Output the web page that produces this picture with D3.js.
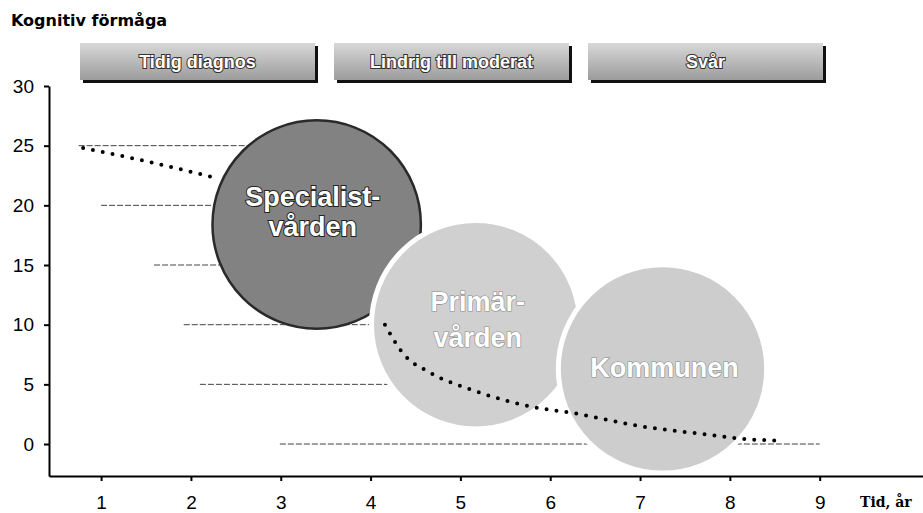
<!DOCTYPE html>
<html>
<head>
<meta charset="utf-8">
<script src="https://cdn.jsdelivr.net/npm/d3@7"></script>
<style>
  body { margin: 0; background: #fff; }
  .tick text { font-family: "Liberation Sans", Arial, sans-serif; font-size: 19px; fill: #000; }
</style>
</head>
<body>
<div id="chart-container"></div>
<script>
// Phases shown as buttons above the chart
const phases = ["Tidig diagnos", "Lindrig till moderat", "Svår"];

// Care providers drawn as circles (time in years, cognitive score)
const careNames = [["Specialist-", "vården"], ["Primär-", "vården"], ["Kommunen"]];
const careYears = [3.4, 5.17, 7.25];
const careScores = [18.4, 10.0, 6.3];

// Staircase gridlines: level, start year, end year
const gridLevels = [25, 20, 15, 10, 5, 0];
const gridStart = [0.75, 1.0, 1.59, 1.92, 2.1, 2.99];
const gridEnd = [3.5, 3.0, 3.8, 4.2, 8.3, 9.0];

// Dotted decline curve (null = hidden behind the dark circle)
const trendYears = [0.8, 1.5, 2.22, null, 4.16, 4.36, 4.66, 5.18, 5.81, 6.25, 7.0, 7.74, 8.19, 8.5];
const trendScores = [24.8, 23.7, 22.4, null, 10.0, 7.6, 6.0, 4.4, 3.1, 2.6, 1.5, 0.8, 0.4, 0.3];

// Tick labels
const xTicks = [1, 2, 3, 4, 5, 6, 7, 8, 9];
const yTicks = [0, 5, 10, 15, 20, 25, 30];

const width = 923;
const height = 513;

const svg = d3.select("#chart-container")
    .append("svg")
    .attr("width", width)
    .attr("height", height);

// Scales
const x = d3.scaleLinear().domain([0.42, 10.15]).range([49, 923]);
const y = d3.scaleLinear().domain([-2.68, 30]).range([476, 86]);

// Gradient for the buttons
const defs = svg.append("defs");
const grad = defs.append("linearGradient")
    .attr("id", "btnGrad")
    .attr("x1", 0).attr("y1", 0).attr("x2", 0).attr("y2", 1);
grad.append("stop").attr("offset", "0%").attr("stop-color", "#d8d8d8");
grad.append("stop").attr("offset", "100%").attr("stop-color", "#9c9c9c");

// Title
svg.append("text")
    .attr("x", 11)
    .attr("y", 26)
    .style("font-family", "DejaVu Sans, sans-serif")
    .style("font-weight", "bold")
    .style("font-size", "16px")
    .text("Kognitiv förmåga");

// Phase buttons
const btnW = 235, btnH = 37, btnStep = 254;
const btn = svg.selectAll(".phase")
    .data(phases)
    .enter().append("g")
    .attr("class", "phase")
    .attr("transform", (d, i) => "translate(" + (80 + i * btnStep) + ",43)");

btn.append("rect")
    .attr("x", 3).attr("y", 3)
    .attr("width", btnW).attr("height", btnH)
    .attr("fill", "#111");

btn.append("rect")
    .attr("width", btnW).attr("height", btnH)
    .attr("fill", "url(#btnGrad)");

btn.append("text")
    .attr("x", btnW / 2)
    .attr("y", 25)
    .attr("text-anchor", "middle")
    .style("font-family", "Liberation Sans, Arial, sans-serif")
    .style("font-weight", "bold")
    .style("font-size", "18px")
    .style("fill", "#fff")
    .style("stroke", "#333")
    .style("stroke-width", "2px")
    .style("paint-order", "stroke")
    .text(d => d);

// Gridlines
svg.selectAll(".grid")
    .data(gridLevels)
    .enter().append("line")
    .attr("class", "grid")
    .attr("x1", (d, i) => x(gridStart[i]))
    .attr("x2", (d, i) => x(gridEnd[i]))
    .attr("y1", d => y(d))
    .attr("y2", d => y(d))
    .attr("stroke", "#444")
    .attr("stroke-width", 1)
    .attr("stroke-dasharray", "6,2");

// Circles
const r = x(1.16) - x(0);
const circleFill = ["#828282", "#d0d0d0", "#cdcdcd"];
const circleStroke = ["#2a2a2a", "#fff", "#fff"];
const circleStrokeW = [2.5, 5, 5];

svg.selectAll(".care")
    .data(careYears)
    .enter().append("circle")
    .attr("class", "care")
    .attr("cx", d => x(d))
    .attr("cy", (d, i) => y(careScores[i]))
    .attr("r", r)
    .attr("fill", (d, i) => circleFill[i])
    .attr("stroke", (d, i) => circleStroke[i])
    .attr("stroke-width", (d, i) => circleStrokeW[i]);

// Circle labels
const labelOffset = [[-18, 12], [-14, 22], [8]];
careNames.forEach((lines, i) => {
    lines.forEach((t, j) => {
        svg.append("text")
            .attr("x", x(careYears[i]) + (i === 0 ? -4 : 2))
            .attr("y", y(careScores[i]) + labelOffset[i][j])
            .attr("text-anchor", "middle")
            .style("font-family", "Liberation Sans, Arial, sans-serif")
            .style("font-weight", "bold")
            .style("font-size", "27px")
            .style("fill", "#fff")
            .style("stroke", i === 0 ? "#222" : "#8a8a8a")
            .style("stroke-width", i === 0 ? "2px" : "1.2px")
            .style("paint-order", "stroke")
            .text(t);
    });
});

// Dotted decline curve
const trend = trendYears.map((d, i) => [d, trendScores[i]]);
const line = d3.line()
    .defined(d => d[0] !== null)
    .curve(d3.curveMonotoneX)
    .x(d => x(d[0]))
    .y(d => y(d[1]));

svg.append("path")
    .datum(trend)
    .attr("d", line)
    .attr("fill", "none")
    .attr("stroke", "#000")
    .attr("stroke-width", 4)
    .attr("stroke-linecap", "round")
    .attr("stroke-dasharray", "0,10");

// Axes
svg.append("g")
    .attr("class", "x-axis")
    .attr("transform", "translate(0," + y(-2.68) + ")")
    .call(d3.axisBottom(x).tickValues(xTicks).tickSize(5).tickSizeOuter(0).tickPadding(15));

svg.append("g")
    .attr("class", "y-axis")
    .attr("transform", "translate(" + x(0.42) + ",0)")
    .call(d3.axisLeft(y).tickValues(yTicks).tickSize(5).tickSizeOuter(0).tickPadding(10));

svg.selectAll(".x-axis path, .y-axis path, .tick line")
    .attr("stroke", "#000")
    .attr("stroke-width", 2);

// Axis label
svg.append("text")
    .attr("x", 860)
    .attr("y", 507)
    .style("font-family", "DejaVu Serif, serif")
    .style("font-weight", "bold")
    .style("font-size", "14px")
    .text("Tid, år");
</script>
</body>
</html>
